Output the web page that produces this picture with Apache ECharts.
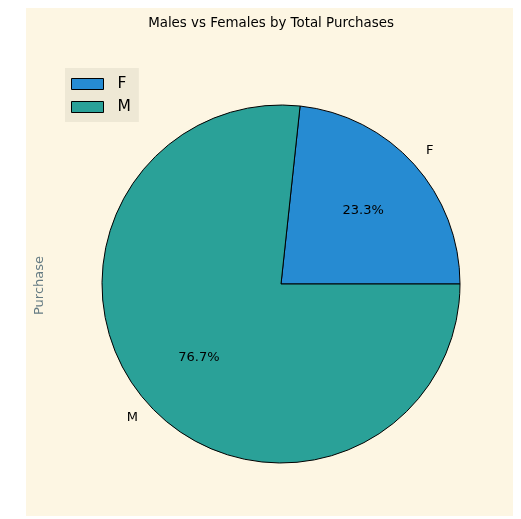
<!DOCTYPE html>
<html>
<head>
<meta charset="utf-8">
<script src="https://cdn.jsdelivr.net/npm/echarts@6/dist/echarts.min.js"></script>
<style>
  html, body { margin: 0; padding: 0; background: #fff; }
  #chart { width: 521px; height: 519px; }
</style>
</head>
<body>
<div id="chart"></div>
<script>
// data
const categories = ['F', 'M']
const purchases = [23.3, 76.7]
const colors = ['#268bd2', '#2aa198']

const FONT = 'DejaVu Sans'
const CENTER = [281, 284]
const R = 179

const chart = echarts.init(document.getElementById('chart'))

const sliceData = categories.map((c, i) => ({
  name: c,
  value: purchases[i],
  itemStyle: { color: colors[i] }
}))

chart.setOption({
  animation: false,
  backgroundColor: '#ffffff',
  textStyle: { fontFamily: FONT },
  title: {
    text: 'Males vs Females by Total Purchases',
    left: 266,
    top: 12,
    textAlign: 'center',
    textStyle: { fontFamily: FONT, fontSize: 13.4, fontWeight: 'normal', color: '#000' }
  },
  grid: {
    left: 26, top: 8, width: 487, height: 508,
    show: true, backgroundColor: '#fdf6e3', borderWidth: 0
  },
  xAxis: { show: false, type: 'value' },
  yAxis: { show: false, type: 'value' },
  legend: {
    data: categories,
    orient: 'vertical',
    left: 65,
    top: 68,
    padding: [8, 8, 7, 6],
    itemGap: 7,
    itemWidth: 32,
    itemHeight: 11,
    icon: 'rect',
    backgroundColor: '#eee8d5',
    itemStyle: { borderColor: '#000', borderWidth: 1 },
    textStyle: { fontFamily: FONT, fontSize: 15.5, color: '#000', padding: [0, 0, 0, 9] }
  },
  graphic: [{
    type: 'text',
    left: 33,
    top: 256,
    rotation: Math.PI / 2,
    style: { text: 'Purchase', font: '13px "DejaVu Sans"', fill: '#657b83' }
  }],
  series: [
    {
      type: 'pie',
      center: CENTER,
      radius: [0, R],
      startAngle: 0,
      clockwise: false,
      label: { show: false },
      labelLine: { show: false },
      emphasis: { disabled: true },
      itemStyle: { borderColor: '#000', borderWidth: 1 },
      data: sliceData
    },
    {
      // percentage labels at 0.6 R
      type: 'pie',
      center: CENTER,
      radius: [0, R * 1.2],
      startAngle: 0,
      clockwise: false,
      silent: true,
      legendHoverLink: false,
      itemStyle: { color: 'transparent', borderWidth: 0 },
      label: {
        show: true, position: 'inside',
        formatter: p => p.value.toFixed(1) + '%',
        fontFamily: FONT, fontSize: 13, color: '#000'
      },
      labelLine: { show: false },
      emphasis: { disabled: true },
      data: categories.map((c, i) => ({ name: c + ' ', value: purchases[i] }))
    },
    {
      // category labels at 1.1 R
      type: 'pie',
      center: CENTER,
      radius: [R, R * 1.2],
      startAngle: 0,
      clockwise: false,
      silent: true,
      legendHoverLink: false,
      itemStyle: { color: 'transparent', borderWidth: 0 },
      label: {
        show: true, position: 'inside',
        formatter: p => p.name.trim(),
        fontFamily: FONT, fontSize: 13, color: '#000'
      },
      labelLine: { show: false },
      emphasis: { disabled: true },
      data: categories.map((c, i) => ({ name: c + '  ', value: purchases[i] }))
    }
  ]
})
</script>
</body>
</html>
